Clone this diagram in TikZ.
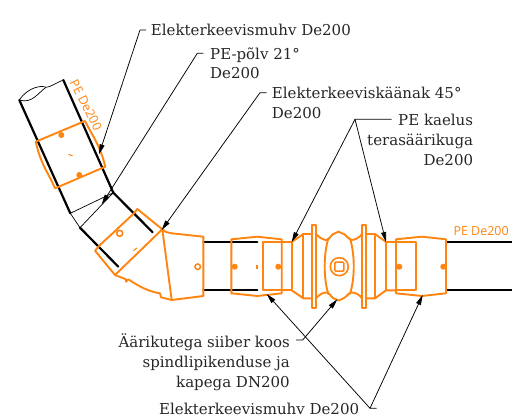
\documentclass[tikz,border=0pt]{standalone}
\usepackage{fontspec}
\setmainfont{DejaVu Serif}
\setsansfont{Open Sans}
\usetikzlibrary{arrows.meta}
\definecolor{pe}{HTML}{FF8410}
\tikzset{
 ora/.style={draw=pe,line width=1.9pt,line join=round,line cap=round},
 orathin/.style={draw=pe,line width=1.1pt},
 pipe/.style={draw=black,line width=2.2pt,line cap=round},
 thinl/.style={draw=black,line width=0.7pt},
 lead/.style={draw=black,line width=0.75pt},
 tip/.style={-{Stealth[length=10pt,width=5pt,inset=0pt]}},
 lab/.style={inner sep=0pt,font=\fontsize{15}{20}\selectfont,text=black!85},
 pel/.style={inner sep=0pt,font=\sffamily\fontsize{12.5}{14}\selectfont,text=pe},
 dot/.style={fill=pe,draw=none,circle,minimum size=6pt,inner sep=0pt}
}
\begin{document}
\begin{tikzpicture}[x=1pt,y=-1pt]
\useasboundingbox (0,0) rectangle (512,420);
% pipe geometry
\coordinate (pl) at (19.3,100);
\coordinate (pr) at (63.3,80);
\coordinate (ml) at (70.3,213.3);
\coordinate (mr) at (113.3,192.7);
\coordinate (el) at (80,227.7);
\draw[pipe] (pl) -- (ml);
\draw[pipe] (pr) -- (mr) -- (152.7,232.3);
\draw[pipe] (el) -- (118.3,266.7);
\draw[thinl] (pl) .. controls (28,87) and (42,85) .. (46,87.3) .. controls (50,87.3) and (56,83) .. (pr);
\draw[thinl] (pl) .. controls (32,104) and (38,93) .. (46,87.3);
\draw[thinl] (ml) -- (el) -- (mr) -- (ml);
\draw[pipe] (203.3,242) -- (257.3,242);
\draw[pipe] (203.3,290.3) -- (257.3,290.3);
\draw[pipe] (446,242) -- (512,242);
\draw[pipe] (446,290.3) -- (512,290.3);
% upper muff
\draw[ora] (35.7,141.7) -- (85,121) .. controls (92,135) and (100,145) .. (105.3,166.7) -- (55,188.3)
  .. controls (48,172) and (41,165) .. cycle;
\node[dot] (d1) at (61.3,135) {};
\node[dot] (d2) at (79.3,175) {};
\draw[orathin] (68.5,154.4) -- (72.5,155.8);
% elbow 45
\draw[ora] (100,245) -- (133.3,214) -- (137.3,209) -- (162.3,229.3) -- (115,275) -- (95,250.7) -- cycle;
\draw[ora] (115,275) -- (126,279.3) -- (126,281.7) -- (128.3,279.3) .. controls (140,287) and (150,292) .. (160,293.3) -- (161,297.3) -- (171.7,300);
\draw[ora] (162.3,229.3) -- (166,232) -- (171.7,233.3) -- (203.3,236.7) -- (203.3,296) -- (171.7,300) -- cycle;
\node[draw=pe,line width=1.6pt,circle,minimum size=6pt,inner sep=0pt] (c1) at (119.7,233.3) {};
\draw[orathin] (133.5,250.5) -- (137,248);
\node[draw=pe,line width=1.5pt,circle,minimum size=5.5pt,inner sep=0pt] (c2) at (197.7,266.7) {};
% left muff
\draw[ora] (231.3,239.3) -- (257.3,236.7) -- (281.7,239.3) -- (281.7,293.3) -- (257.3,296) -- (231.3,293.3) -- cycle;
\draw[ora] (262.7,242) -- (291.7,242) -- (291.7,290.3) -- (262.7,290.3) -- cycle;
\node[dot] (d3) at (234.7,266.7) {};
\node[dot] (d4) at (278.3,266.7) {};
\draw[orathin] (257,264.5) -- (257,268.5);
% valve left
\draw[ora] (291.7,242) -- (303.3,234) -- (312,234);
\draw[ora] (291.7,290.3) -- (303.3,298.3) -- (312,298.3);
\draw[ora] (303.3,234) -- (303.3,298.3);
\draw[ora] (312,225) -- (316,225) -- (316,307.7) -- (312,307.7) -- cycle;
% valve body
\draw[ora] (316,234) .. controls (320,238) and (323,240) .. (327,240) .. controls (331,238) and (331,234) .. (335,233.3) .. controls (337,231) and (340,231) .. (342,233.3) .. controls (346,234) and (347,238) .. (351,240) .. controls (355,240) and (359,238) .. (362,234);
\draw[ora] (316,298.3) .. controls (320,294) and (323,292.5) .. (327,292.5) .. controls (331,294) and (331,298) .. (335,299) .. controls (337,301) and (340,301) .. (342,299) .. controls (346,298) and (347,294) .. (351,292.5) .. controls (355,292.5) and (359,294) .. (362,298.3);
\draw[ora] (328.3,238.3) .. controls (323.5,255) and (323.5,278) .. (328.3,294);
\draw[ora] (350,238.3) .. controls (355,255) and (355,278) .. (350,294);
\node[draw=pe,line width=1.6pt,circle,minimum size=18pt,inner sep=0pt] (c3) at (339.3,266.7) {};
\node[draw=pe,line width=1.5pt,rounded corners=1pt,minimum size=9pt,inner sep=0pt] (c4) at (339.3,266.7) {};
% valve right
\draw[ora] (362,225) -- (366,225) -- (366,307.7) -- (362,307.7) -- cycle;
\draw[ora] (366,234) -- (375,234) -- (386,242) -- (396,242);
\draw[ora] (366,298.3) -- (375,298.3) -- (386,290.3) -- (396,290.3);
\draw[ora] (375,234) -- (375,298.3);
\draw[ora] (386,242) -- (386,290.3);
% right muff
\draw[ora] (396,239.3) -- (421.7,236.7) -- (446,239.3) -- (446,293.3) -- (421.7,296) -- (396,293.3) -- cycle;
\draw[ora] (396,242) -- (415.7,242) -- (415.7,290.3) -- (396,290.3);
\node[dot] (d5) at (399.3,266.7) {};
\node[dot] (d6) at (443.3,266.7) {};
% labels
\node[lab,anchor=base west] (t1) at (150.7,36) {Elekterkeevismuhv De200};
\node[lab,anchor=base west,align=left] (t2) at (210,79) {PE-põlv 21°\\De200};
\node[lab,anchor=base west,align=left] (t3) at (271.7,118.3) {Elekterkeeviskäänak 45°\\De200};
\node[lab,anchor=base east,align=right] (t4) at (473.3,165) {PE kaelus\\terasäärikuga\\De200};
\node[lab,anchor=base east,align=right] (t5) at (290,387.7) {Äärikutega siiber koos\\spindlipikenduse ja\\kapega DN200};
\node[lab,anchor=base east] (t6) at (359.3,414) {Elekterkeevismuhv De200};
\node[pel,anchor=base west] (pe1) at (453.3,235.7) {PE De200};
\node[pel,rotate=-63,anchor=center] (pe2) at (86,105) {PE De200};
% leaders
\coordinate (a1) at (146,30); \coordinate (b1) at (140,30); \coordinate (e1) at (99,154.3);
\coordinate (a2) at (203.3,53.3); \coordinate (b2) at (197.3,53.3); \coordinate (e2) at (101.7,204.3);
\coordinate (a3) at (266.7,92.7); \coordinate (b3) at (260,92.7); \coordinate (e3) at (161.7,230);
\coordinate (a4) at (391.7,119.3); \coordinate (b4) at (355,119.3); \coordinate (e4) at (291.7,242); \coordinate (f4) at (386,242);
\coordinate (a5) at (296,340); \coordinate (b5) at (302.7,340); \coordinate (e5) at (337.3,299.3);
\coordinate (a6) at (376.7,408.3); \coordinate (b6) at (370,408.3); \coordinate (e6) at (266.7,294); \coordinate (f6) at (422.7,295);
\draw[lead,tip] (a1) -- (b1) -- (e1);
\draw[lead,tip] (a2) -- (b2) -- (e2);
\draw[lead,tip] (a3) -- (b3) -- (e3);
\draw[lead,tip] (a4) -- (b4) -- (e4);
\draw[lead,tip] (b4) -- (f4);
\draw[lead,tip] (a5) -- (b5) -- (e5);
\draw[lead,tip] (a6) -- (b6) -- (e6);
\draw[lead,tip] (b6) -- (f6);
\end{tikzpicture}
\end{document}
